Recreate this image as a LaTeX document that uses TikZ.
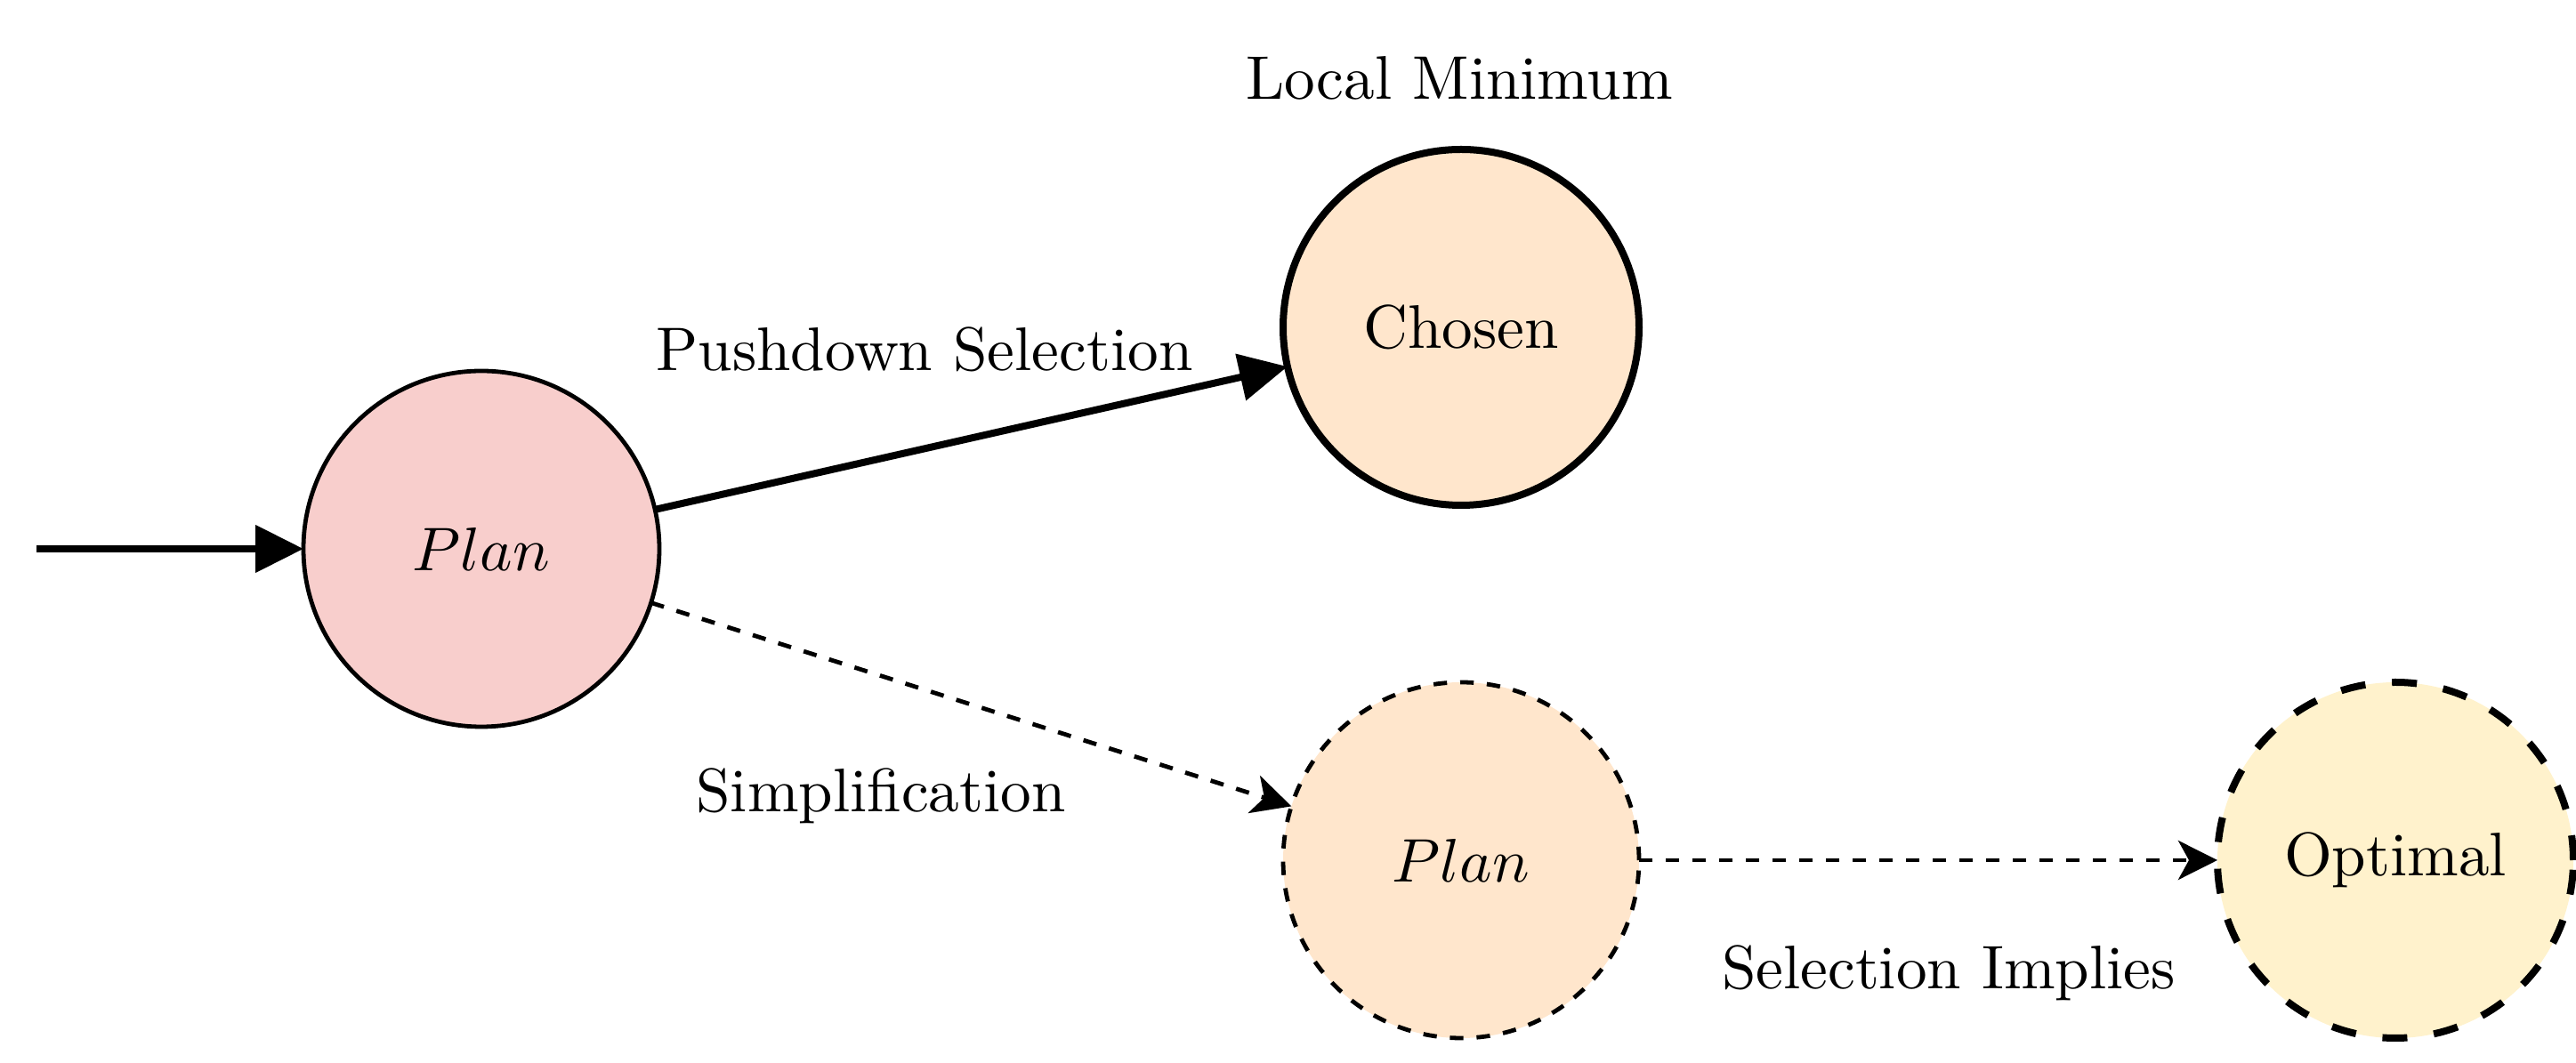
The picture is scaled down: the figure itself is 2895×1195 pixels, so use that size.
\documentclass[tikz,border=0pt]{standalone}
\usepackage{graphicx}
\usetikzlibrary{arrows.meta}
\definecolor{pinkfill}{HTML}{F8CECC}
\definecolor{orangefill}{HTML}{FFE6CC}
\definecolor{yellowfill}{HTML}{FFF2CC}
\newcommand{\bigtxt}[1]{\scalebox{1.73}{\fontsize{10}{12}\selectfont #1}}
\begin{document}
\begin{tikzpicture}[x=0.25pt,y=-0.25pt,
  txt/.style={inner sep=0pt, outer sep=0pt},
  state/.style={circle, minimum size=100pt, inner sep=0pt, outer sep=0pt, txt},
  thinline/.style={line width=1.2pt},
  thickline/.style={line width=2pt},
  thindash/.style={thinline, dash pattern=on 3.8pt off 3.7pt},
  thickdash/.style={thickline, dash pattern=on 7pt off 7.5pt},
  bigtip/.style={-{Triangle[length=13.5pt,width=13pt]}},
  smalltip/.style={-{Stealth[length=11pt,width=11pt,inset=3pt]}},
  lbl/.style={txt, anchor=base}]
\useasboundingbox (0,0) rectangle (2895,1195);

\node[state, draw, thinline, fill=pinkfill] (p1) at (541,617) {\bigtxt{$Plan$}};
\node[state, draw, thickline, fill=orangefill] (ch) at (1642,368) {\bigtxt{Chosen}};
\node[state, draw, thindash, fill=orangefill] (p2) at (1642,967) {\bigtxt{$Plan$}};
\node[state, draw, thickdash, fill=yellowfill] (opt) at (2692,967) {\bigtxt{Optimal}};

\coordinate (start) at (41,617);

\draw[thickline, bigtip] (start) -- (p1);
\draw[thickline, bigtip] (p1) -- (ch);
\draw[thindash, smalltip] (p1) -- (p2);
\draw[thindash, smalltip] (p2) -- (opt);

\node[lbl] (lm) at (1640,112) {\bigtxt{Local Minimum}};
\node[lbl] (ps) at (1039,417) {\bigtxt{Pushdown Selection}};
\node[lbl] (si) at (990,913) {\bigtxt{Simplification}};
\node[lbl] (sel) at (2190,1112) {\bigtxt{Selection Implies}};
\end{tikzpicture}
\end{document}
